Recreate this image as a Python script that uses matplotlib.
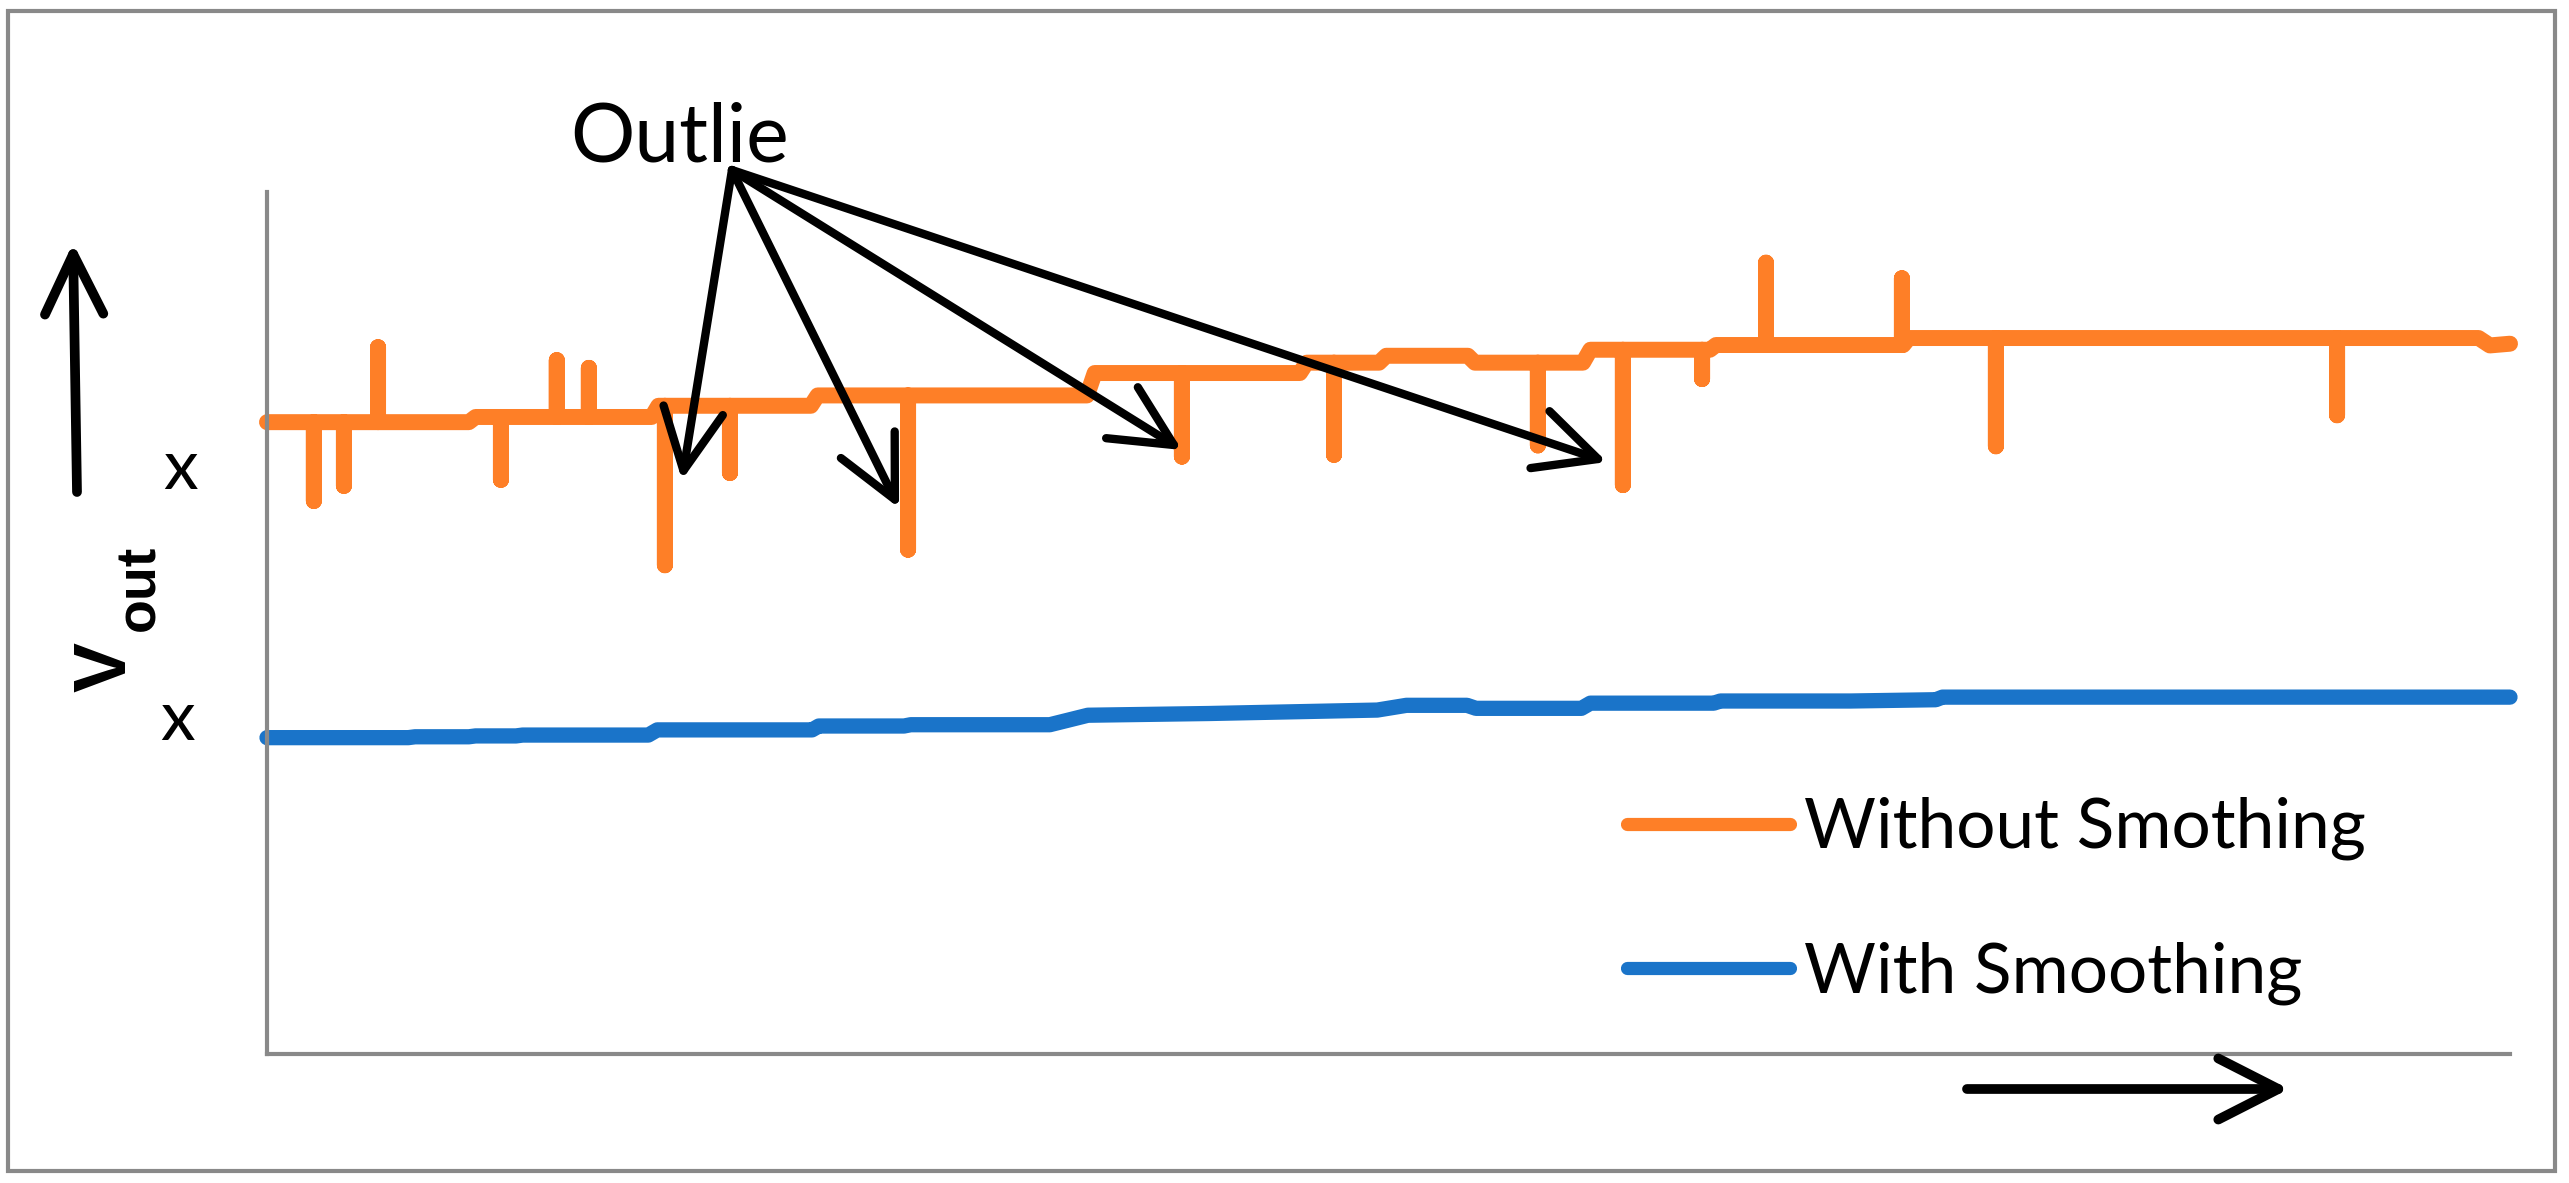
import matplotlib
matplotlib.use('Agg')
import matplotlib.pyplot as plt
from matplotlib.patches import Rectangle

# ---------------- data ----------------
# x: 0..100 (relative time), y: 0..100 (relative Vout)
orange_base_x = [0, 9.0, 9.3, 17.15, 17.45, 24.25, 24.55, 36.56, 36.9, 46.05, 46.35,
                 49.58, 49.9, 53.54, 53.85, 58.67, 59.0, 64.33, 64.6, 72.95, 73.2,
                 98.6, 99.1, 100]
orange_base_y = [73.3, 73.3, 73.9, 73.9, 75.2, 75.2, 76.4, 76.4, 79.0, 79.0, 80.2,
                 80.2, 81.0, 81.0, 80.2, 80.2, 81.7, 81.7, 82.25, 82.25, 83.06,
                 83.06, 82.2, 82.4]
outlier_x = [2.09, 3.43, 4.95, 10.43, 12.92, 14.35, 17.74, 20.64, 28.58, 40.79,
             47.57, 56.66, 60.45, 63.98, 66.83, 72.89, 77.08, 92.29]
outlier_base = [73.3, 73.3, 73.3, 73.9, 73.9, 73.9, 75.2, 75.2, 76.4, 79.0,
                80.2, 80.2, 81.7, 81.7, 82.25, 82.25, 83.06, 83.06]
outlier_peak = [64.15, 65.9, 82.0, 66.6, 80.5, 79.6, 56.7, 67.4, 58.5, 69.3,
                69.5, 70.6, 66.0, 78.3, 91.8, 90.0, 70.5, 74.1]

blue_x = [0, 6.3, 6.6, 9.0, 9.3, 11.1, 11.4, 17.0, 17.4, 24.3, 24.6, 28.4, 28.7,
          34.9, 36.6, 42.0, 49.5, 50.8, 53.5, 53.9, 58.6, 59.0, 64.5, 64.8, 70.6,
          74.4, 74.7, 100]
blue_y = [36.7, 36.7, 36.8, 36.8, 36.9, 36.9, 37.0, 37.0, 37.6, 37.6, 38.05, 38.05,
          38.2, 38.2, 39.3, 39.5, 39.9, 40.45, 40.45, 40.1, 40.1, 40.7, 40.7, 40.95,
          40.95, 41.1, 41.4, 41.4]

labels = ["Without Smothing", "With Smoothing"]
outlier_label = "Outlie"
arrow_targets_x = [18.50, 28.18, 40.79, 59.74]
arrow_targets_y = [66.59, 63.34, 70.07, 68.68]
arrow_origin = (20.73, 102.55)

# ---------------- build orange series ----------------
pts = [(x, 0, y) for x, y in zip(orange_base_x, orange_base_y)]
for x, b, p in zip(outlier_x, outlier_base, outlier_peak):
    pts += [(x, 1, b), (x, 2, p), (x, 3, b)]
pts.sort(key=lambda t: (t[0], t[1]))
orange_x = [t[0] for t in pts]
orange_y = [t[2] for t in pts]

# ---------------- figure ----------------
W, H, DPI = 2569, 1183, 100
fig = plt.figure(figsize=(W / DPI, H / DPI), dpi=DPI)
fig.patch.set_facecolor('white')


def fx(x):
    return x / W


def fy(y):
    return 1 - y / H


GRAY = '#898989'
ORANGE = '#FE7F27'
BLUE = '#1A74C9'

ax = fig.add_axes([fx(267), fy(1054), fx(2510) - fx(267), fy(192) - fy(1054)])
ax.set_xlim(0, 100)
ax.set_ylim(0, 100)
for s in ['top', 'right']:
    ax.spines[s].set_visible(False)
for s in ['left', 'bottom']:
    ax.spines[s].set_color(GRAY)
    ax.spines[s].set_linewidth(3)
ax.set_xticks([])
ax.set_yticks([])

ax.plot(orange_x, orange_y, color=ORANGE, lw=11.5, solid_capstyle='round',
        solid_joinstyle='round', label=labels[0], clip_on=False)
ax.plot(blue_x, blue_y, color=BLUE, lw=11, solid_capstyle='round',
        solid_joinstyle='round', label=labels[1], clip_on=False)

leg = ax.legend(loc='upper left', bbox_to_anchor=(fx(1627), fy(797)),
                bbox_transform=fig.transFigure, frameon=False,
                prop=dict(family='Lato', size=50), handlelength=2.35,
                handletextpad=0.2, labelspacing=1.17, borderaxespad=0, borderpad=0)
for ln in leg.get_lines():
    ln.set_linewidth(9.5)

# outer frame
fig.add_artist(Rectangle((fx(8), fy(1171)), fx(2555) - fx(8), fy(11) - fy(1171),
                         transform=fig.transFigure, fill=False, ec=GRAY, lw=3))

# outlier annotation
fig.text(fx(680), fy(161), outlier_label, family='Lato', fontsize=58,
         ha='center', va='baseline')
for tx, ty in zip(arrow_targets_x, arrow_targets_y):
    ax.annotate('', xy=(tx, ty), xytext=arrow_origin, xycoords='data',
                textcoords='data', annotation_clip=False,
                arrowprops=dict(arrowstyle='->,head_length=2.2,head_width=1.08',
                                mutation_scale=20, lw=6, color='black',
                                shrinkA=0, shrinkB=0, capstyle='round',
                                joinstyle='round'))

# axis direction arrows
ax.annotate('', xy=(fx(73), fy(243)), xytext=(fx(77), fy(492)),
            xycoords='figure fraction', textcoords='figure fraction',
            annotation_clip=False,
            arrowprops=dict(arrowstyle='->,head_length=2.16,head_width=1.05',
                            mutation_scale=20, lw=7, color='black',
                            shrinkA=0, shrinkB=0))
ax.annotate('', xy=(fx(2289), fy(1089)), xytext=(fx(1967), fy(1089)),
            xycoords='figure fraction', textcoords='figure fraction',
            annotation_clip=False,
            arrowprops=dict(arrowstyle='->,head_length=2.16,head_width=1.1',
                            mutation_scale=20, lw=7, color='black',
                            shrinkA=0, shrinkB=0))

# y label V_out
fig.text(fx(106), fy(667), 'V', family='Liberation Sans', fontweight='bold',
         fontsize=54, rotation=90, ha='center', va='center')
fig.text(fx(140), fy(588), 'out', family='Liberation Sans', fontweight='bold',
         fontsize=40, rotation=90, ha='center', va='center')

# level markers
fig.text(fx(181), fy(489), 'x', family='Lato', fontsize=50, ha='center', va='baseline')
fig.text(fx(178), fy(740), 'x', family='Lato', fontsize=50, ha='center', va='baseline')

fig.savefig('out.png', dpi=DPI, facecolor='white')
